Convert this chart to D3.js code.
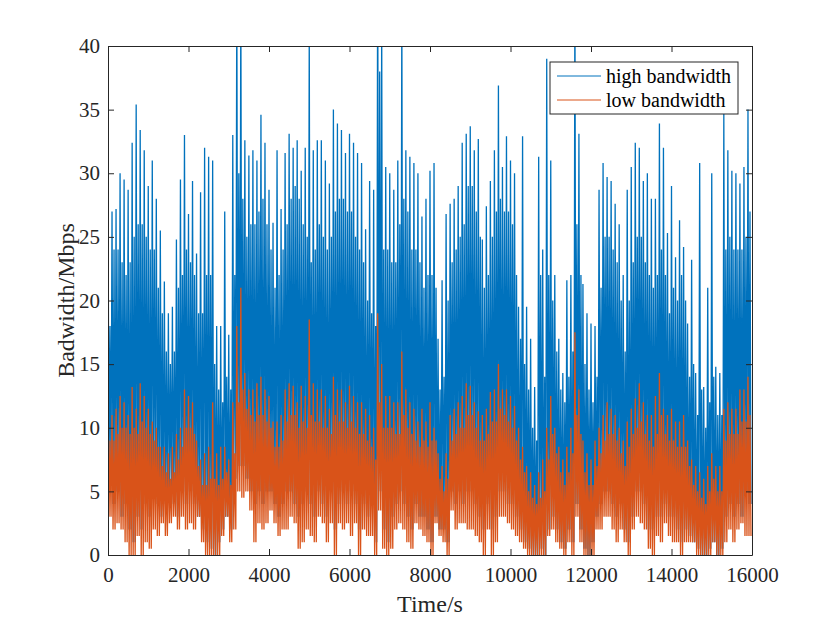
<!DOCTYPE html>
<html>
<head>
<meta charset="utf-8">
<script src="https://cdn.jsdelivr.net/npm/d3@7/dist/d3.min.js"></script>
<style>
	body { margin: 0; background: #ffffff; }
	svg { display: block; }
</style>
</head>
<body>
<div id="chart"></div>
<script>
"use strict";

// in 100 s bins: spike top, dense-band top and dip of each trace
var binSize = 100;

var highPeaks = [
	28.5, 27, 27.2, 30, 29.5, 28.7, 32.4, 35.4, 33.4, 31.8,
	29, 31, 28, 25.5, 21.5, 19, 19.5, 24.8, 29.5, 33,
	26.8, 29.4, 23.7, 28.5, 32, 31.3, 31, 18, 18, 27,
	17.3, 33, 45, 44, 32.6, 31.4, 31.8, 31, 34.6, 32.4,
	28.7, 26.1, 31.8, 27.2, 31.6, 33.1, 32, 32.6, 30.2, 32,
	41, 31.8, 32.6, 32.6, 31, 29.2, 35, 33.9, 33.4, 31.6,
	33.1, 32.4, 31.6, 30.8, 25.6, 29.4, 28.7, 48, 42, 30.5,
	30, 28.7, 31, 43, 31.8, 31.3, 30.8, 30, 26.6, 28,
	30.2, 30.8, 17, 21.6, 26.8, 27.6, 28, 29, 32.4, 33.1,
	33.7, 31.8, 32.7, 24.8, 27.4, 29.4, 31.8, 36.9, 30.5, 32.9,
	31, 30, 19.5, 32.9, 19.5, 17, 13.2, 31.3, 24, 39,
	31, 22, 17, 14.3, 21.6, 22, 45, 33.1, 21.3, 19,
	18.2, 18, 28.7, 30.8, 29.7, 29.4, 27.6, 26, 22, 28.7,
	30.5, 32.4, 32, 29.4, 30, 28, 28, 33.9, 32, 25.3,
	29, 23.4, 26.3, 24.2, 18.2, 23.2, 14.3, 30.8, 13.2, 21,
	30, 14.8, 14.3, 34.7, 31.8, 30.2, 30, 29.2, 30.5, 35
];

var highCore = [
	18, 24, 24, 23, 22, 23, 25, 26, 26, 25,
	24, 24, 21, 19, 16, 15, 16, 21, 22, 24,
	23, 22, 19, 19, 22, 22, 15, 13, 12, 14,
	13, 22, 30, 28, 25, 26, 26, 27, 28, 26,
	24, 21, 22, 24, 26, 28, 29, 28, 26, 25,
	23, 24, 26, 25, 24, 25, 27, 28, 28, 27,
	27, 25, 24, 23, 20, 19, 18, 38, 24, 24,
	23, 23, 26, 28, 27, 24, 24, 23, 21, 22,
	22, 21, 13, 14, 20, 23, 24, 25, 26, 29,
	29, 27, 25, 21, 22, 25, 27, 28, 27, 27,
	26, 22, 17, 15, 13, 10, 9, 22, 14, 22,
	20, 16, 13, 12, 14, 16, 26, 22, 15, 13,
	12, 14, 21, 25, 25, 24, 23, 20, 16, 20,
	23, 25, 25, 23, 22, 21, 22, 24, 22, 19,
	21, 20, 22, 20, 14, 15, 11, 13, 10, 12,
	14, 11, 11, 24, 25, 24, 24, 24, 25, 27
];

var highDips = [
	6, 4, 5, 3, 4, 2, 1, 3, 2, 4,
	3, 5, 4, 3, 4, 5, 4, 3, 5, 4,
	5, 4, 3, 2, 1, 0.5, 0, 1, 2, 3,
	2, 6, 7, 7, 6, 5, 4, 5, 4, 5,
	5, 4, 3, 4, 5, 5, 4, 3, 4, 5,
	4, 3, 5, 4, 3, 5, 2, 4, 5, 4,
	5, 4, 2, 4, 3, 4, 1, 5, 2, 1,
	3, 4, 5, 4, 3, 2, 4, 3, 3, 2,
	1, 3, 2, 2, 1, 5, 4, 5, 4, 5,
	5, 4, 3, 2, 4, 2, 3, 5, 5, 4,
	4, 3, 2, 1, 0.5, 0, 0, 0.5, 0, 2,
	3, 2, 1, 0.5, 2, 1, 4, 2, 0.5, 0,
	1, 3, 4, 5, 5, 4, 3, 4, 2, 1,
	3, 5, 5, 4, 2, 2, 3, 3, 4, 3,
	3, 2, 1, 2, 1.5, 1, 0.5, 0, 0, 0.5,
	1, 0, 0.5, 3, 4, 3, 4, 3, 5, 4
];

var lowPeaks = [
	11.5, 11, 11.5, 12.5, 12, 11, 13.2, 11.5, 13.5, 12.5,
	11.5, 10.5, 10, 8.5, 8.5, 8, 8.5, 9.5, 10, 13,
	12.5, 12, 9, 7.5, 8, 8.5, 12, 8, 8.5, 8.5,
	7.5, 12, 18, 21, 14.3, 13, 13, 13.5, 14, 13,
	12.5, 10.5, 10.5, 11, 13, 13.5, 13.3, 12, 13.3, 12.5,
	18.5, 13.5, 13, 13, 12.5, 11.5, 14, 13, 13, 12,
	13.3, 12.5, 12, 12, 11.5, 11, 10, 19, 15, 12.5,
	12.5, 12, 12, 16, 13, 12, 11.5, 10.5, 11.5, 10.5,
	12, 10, 8, 7, 8, 11, 11.5, 12, 12.5, 13.5,
	13.3, 12, 11.3, 11, 11.5, 12.8, 13, 15, 13, 13,
	12.5, 11.7, 10, 8.5, 7, 6.5, 5.5, 6.5, 7.5, 10,
	12.5, 10, 8.5, 7.5, 8.5, 10, 17.5, 13, 9, 8,
	7.5, 9, 10, 11, 12, 11.5, 11, 10, 9, 10.5,
	11.5, 12.3, 13.5, 12, 11, 11, 12.5, 14.3, 11.5, 11,
	11.5, 10.5, 10.5, 11, 9, 7.5, 7, 6.5, 6, 7,
	8, 7, 7, 11.5, 12, 11.5, 11.5, 13, 13, 14
];

var lowCore = [
	9, 9, 9.5, 10, 10, 9.5, 10, 9.5, 10.5, 10,
	9.5, 9, 8.5, 7, 6.5, 6, 6.5, 7.5, 8.5, 10,
	10, 9.5, 7, 5.5, 5.5, 6, 6, 5.5, 6, 6.5,
	5.5, 8, 12, 13, 11.5, 11, 10.5, 11, 11, 10.5,
	10, 8.5, 8.5, 9, 10.5, 11, 11, 10, 10.5, 10,
	11, 10.5, 10.5, 10, 10, 9.5, 11, 10.5, 10.5, 10,
	10.5, 10, 9.5, 9.5, 9, 8.5, 7.5, 12, 10, 10,
	10, 9.5, 9.5, 11, 10, 9.5, 9, 8.5, 9, 8.5,
	9, 9, 6, 5, 6, 9, 9.5, 10, 10, 11,
	11, 10, 9, 9, 9.5, 10.5, 10.5, 11.5, 11, 10.5,
	10, 9, 7.5, 6.5, 5, 4.5, 4, 4.5, 5, 7.5,
	9.5, 8, 6.5, 5.5, 6.5, 8, 11, 9.5, 6.5, 5.5,
	5.5, 7, 8, 9, 9.5, 9.5, 9, 8, 7, 8.5,
	9.5, 10, 10.5, 9.5, 9, 8.5, 9.5, 11, 9.5, 9,
	9, 8.5, 8.5, 8.5, 7, 5.5, 5, 4.5, 4, 5,
	6, 5, 5, 9, 9.5, 9.5, 9.5, 10.5, 10.5, 11
];

var lowDips = [
	3, 2, 2.5, 2, 1, 0, 0, 1.5, 0, 1,
	0.5, 2, 1.5, 2.5, 1.5, 2.5, 3, 2, 3, 2,
	2.5, 2, 3, 1, 0, 0, 0, 0, 1.5, 3,
	1, 2, 5, 4.5, 5, 3.5, 1, 2.5, 2, 2.5,
	3.5, 2.5, 1.5, 2, 2, 3, 2.5, 0.5, 1, 2,
	1.5, 1, 3, 2.5, 1, 2.5, 0, 2.5, 2, 2.5,
	1.5, 2.5, 0, 2, 1.5, 1.5, 0, 3.5, 0.5, 0,
	0.5, 2, 2.5, 2, 1, 0.5, 2.5, 2, 1.5, 1,
	0, 2.5, 1.5, 1, 0, 3.5, 2, 2.5, 2.5, 2,
	2, 1.5, 1, 0, 2, 0, 1, 3, 3, 2.5,
	2, 1.5, 1, 0.5, 0, 0, 0, 0, 0, 1.5,
	2, 1, 0.5, 0, 1, 0, 3, 1, 0, 0,
	0, 2, 2, 3, 3, 2, 1, 2, 1, 0,
	2, 3, 2.5, 2, 0.5, 0, 1.5, 1, 2.5, 1.5,
	1, 1, 0, 1, 1, 1, 0, 0, 0, 0,
	1, 0, 0, 1, 2, 1, 2, 2.5, 1.5, 1.5
];

var xTicks = [0, 2000, 4000, 6000, 8000, 10000, 12000, 14000, 16000];
var yTicks = [0, 5, 10, 15, 20, 25, 30, 35, 40];
var seriesNames = ["high bandwidth", "low bandwidth"];
var seriesColors = ["#0072BD", "#D95319"];

var width = 830, height = 623;
var margin = {left: 108, right: 78, top: 46, bottom: 68};
var axisColor = "#262626";
var fontFamily = "'Liberation Serif', 'Times New Roman', serif";

// spike, dip, band top, dip inside each bin
function toPoints(peaks, core, dips) {
	var pts = [];
	peaks.forEach(function (p, i) {
		var t = i * binSize;
		pts.push({t: t, v: p});
		pts.push({t: t + binSize / 4, v: dips[i]});
		pts.push({t: t + binSize / 2, v: core[i]});
		pts.push({t: t + binSize * 3 / 4, v: dips[i]});
	});
	return pts;
}

var series = [
	toPoints(highPeaks, highCore, highDips),
	toPoints(lowPeaks, lowCore, lowDips)
];

var svg = d3.select("#chart")
	.append("svg")
	.attr("width", width)
	.attr("height", height)
	.style("background", "#ffffff");

var x = d3.scaleLinear()
	.domain([0, 16000])
	.range([margin.left, width - margin.right]);

var y = d3.scaleLinear()
	.domain([0, 40])
	.range([height - margin.bottom, margin.top]);

svg.append("defs").append("clipPath")
	.attr("id", "plotClip")
	.append("rect")
	.attr("x", x(0))
	.attr("y", y(40))
	.attr("width", x(16000) - x(0))
	.attr("height", y(0) - y(40));

var line = d3.line()
	.x(d => x(d.t))
	.y(d => y(d.v));

var plot = svg.append("g").attr("clip-path", "url(#plotClip)");

plot.selectAll(".trace")
	.data(series)
	.enter().append("path")
	.attr("class", "trace")
	.attr("d", line)
	.style("fill", "none")
	.style("stroke", (d, i) => seriesColors[i])
	.style("stroke-width", 1.3)
	.style("stroke-linejoin", "bevel");

// box axes with inward ticks on all four sides
var tickLen = 6;

var xAxis = svg.append("g")
	.attr("transform", `translate(0, ${y(0)})`)
	.call(d3.axisBottom(x).tickValues(xTicks).tickFormat(d3.format("d"))
		.tickSizeInner(-tickLen).tickSizeOuter(0).tickPadding(12));

var xAxisTop = svg.append("g")
	.attr("transform", `translate(0, ${y(40)})`)
	.call(d3.axisTop(x).tickValues(xTicks).tickSizeInner(-tickLen).tickSizeOuter(0).tickFormat(""));

var yAxis = svg.append("g")
	.attr("transform", `translate(${x(0)}, 0)`)
	.call(d3.axisLeft(y).tickValues(yTicks).tickSizeInner(-tickLen).tickSizeOuter(0).tickPadding(8));

var yAxisRight = svg.append("g")
	.attr("transform", `translate(${x(16000)}, 0)`)
	.call(d3.axisRight(y).tickValues(yTicks).tickSizeInner(-tickLen).tickSizeOuter(0).tickFormat(""));

[xAxis, xAxisTop, yAxis, yAxisRight].forEach(function (g) {
	g.select(".domain").style("stroke", axisColor).style("stroke-width", 1);
	g.selectAll(".tick line").style("stroke", axisColor).style("stroke-width", 1);
	g.selectAll(".tick text")
		.style("fill", axisColor)
		.style("font-family", fontFamily)
		.style("font-size", "21px");
});

xAxis.selectAll(".tick text").attr("dy", "0.71em");

svg.append("text")
	.attr("x", (x(0) + x(16000)) / 2)
	.attr("y", 612)
	.style("text-anchor", "middle")
	.style("font-family", fontFamily)
	.style("font-size", "24px")
	.style("fill", axisColor)
	.text("Time/s");

svg.append("text")
	.attr("transform", `translate(74, ${(y(0) + y(40)) / 2}) rotate(-90)`)
	.style("text-anchor", "middle")
	.style("font-family", fontFamily)
	.style("font-size", "24px")
	.style("fill", axisColor)
	.text("Badwidth/Mbps");

// legend
var legend = svg.append("g").attr("transform", "translate(550, 62)");

legend.append("rect")
	.attr("width", 188)
	.attr("height", 52)
	.style("fill", "#ffffff")
	.style("stroke", axisColor)
	.style("stroke-width", 1);

var items = legend.selectAll(".legendItem")
	.data(seriesNames)
	.enter().append("g")
	.attr("class", "legendItem")
	.attr("transform", (d, i) => `translate(0, ${14 + i * 24})`);

items.append("line")
	.attr("x1", 7)
	.attr("x2", 51)
	.style("stroke", (d, i) => seriesColors[i])
	.style("stroke-width", 1);

items.append("text")
	.attr("x", 56)
	.attr("dy", "0.35em")
	.style("font-family", fontFamily)
	.style("font-size", "20px")
	.style("fill", "#000000")
	.text(d => d);
</script>
</body>
</html>
